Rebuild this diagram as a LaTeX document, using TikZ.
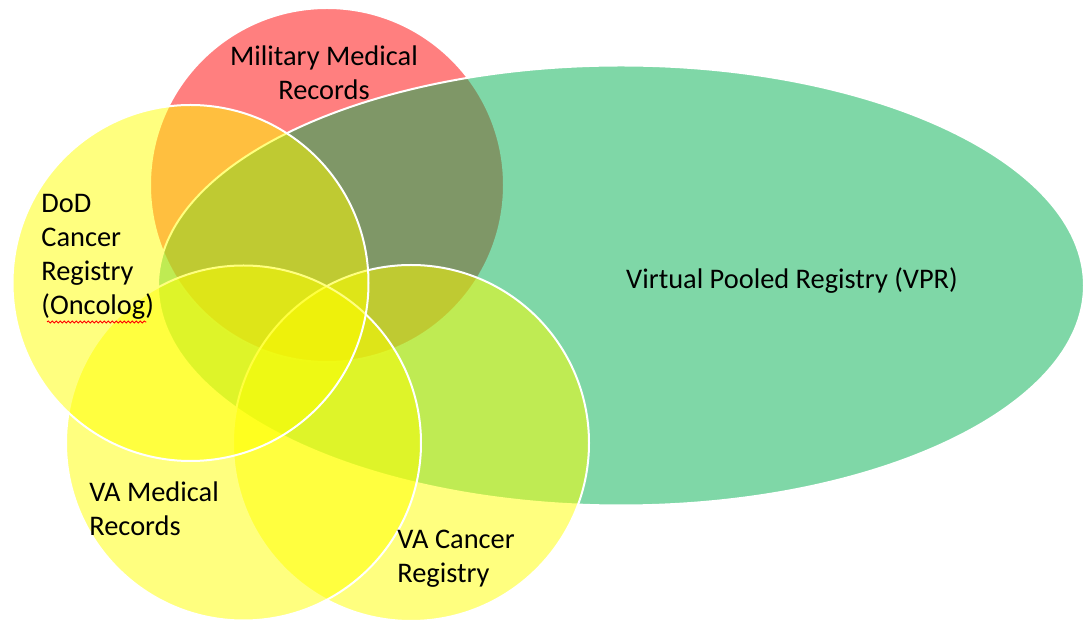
\documentclass[tikz,border=0pt]{standalone}
\usepackage{fontspec}
\setmainfont{Carlito}
\usetikzlibrary{decorations.pathmorphing}
\definecolor{mmred}{HTML}{FF0000}
\definecolor{vprgreen}{HTML}{00B050}
\definecolor{regyellow}{HTML}{FFFF00}
\tikzset{
	set/.style={fill opacity=0.5, draw=white, line width=1pt},
	lbl/.style={inner sep=0pt, font=\fontsize{14.2}{17}\selectfont, text=black}
}
\begin{document}
\begin{tikzpicture}[x=0.5pt, y=0.5pt]
		\useasboundingbox (0,0) rectangle (1083,621);
		\filldraw[set, fill=mmred] (327,436) circle [radius=177];
		\filldraw[set, fill=vprgreen] (621,335.5) ellipse [x radius=463, y radius=220];
		\filldraw[set, fill=regyellow] (411,178) circle [radius=178];
		\filldraw[set, fill=regyellow] (243.5,178) circle [radius=177.5];
		\filldraw[set, fill=regyellow] (190.5,338) circle [radius=178];
		\node[lbl, align=center] (mil) at (324,548) {Military Medical\\Records};
		\node[lbl, align=left, anchor=west] (dod) at (41,364) {DoD\\Cancer\\Registry\\(Oncolog)};
		\node[lbl] (vpr) at (792,340) {Virtual Pooled Registry (VPR)};
		\node[lbl, align=left, anchor=west] (vamed) at (89,112) {VA Medical\\Records};
		\node[lbl, align=left, anchor=west] (vacan) at (397,62) {VA Cancer\\Registry};
		\draw[red, line width=0.4pt, decorate, decoration={snake, amplitude=0.5pt, segment length=2pt}]
			([xshift=3pt, yshift=-1pt]dod.south west) -- ([xshift=-4pt, yshift=-1pt]dod.south east);
	\end{tikzpicture}
\end{document}
